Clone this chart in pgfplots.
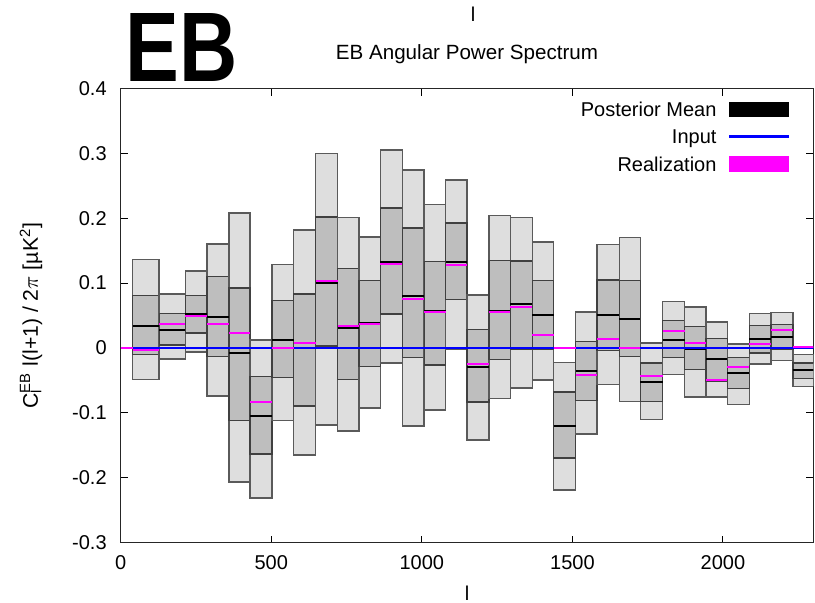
\documentclass[border=0pt]{standalone}
\usepackage{fontspec}
\setmainfont{Liberation Sans}
\usepackage{graphicx}
\usepackage{pgfplots}
\usepackage{pgfplotstable}
\pgfplotsset{compat=1.18}
\definecolor{lightfill}{HTML}{DEDEDE}
\definecolor{darkfill}{HTML}{BEBEBE}
\definecolor{boxedge}{HTML}{5A5A5A}
\definecolor{realmag}{HTML}{FF00FF}
\definecolor{inblue}{HTML}{0000FF}

% x0 x1 : bin edges; l2 h2 : outer band; l1 h1 : inner band; m : posterior mean; r : realization
\pgfplotstableread{
x0   x1   l2      l1      m       r       h1      h2
40   128  -0.0490 -0.0105 0.0342  -0.0028 0.0805  0.1366
128  215  -0.0172 0.0044  0.0280  0.0368  0.0527  0.0830
215  286  -0.0064 0.0229  0.0522  0.0486  0.0805  0.1186
286  359  -0.0743 -0.0136 0.0470  0.0373  0.1100  0.1602
359  430  -0.2065 -0.1119 -0.0075 0.0229  0.0923  0.2080
430  503  -0.2317 -0.1633 -0.1057 -0.0830 -0.0440 0.0121
503  574  -0.1116 -0.0460 0.0130  -0.0008 0.0733  0.1283
574  647  -0.1649 -0.0893 0.0000  0.0069  0.0830  0.1818
647  720  -0.1186 0.0030  0.1006  0.1026  0.2019  0.2996
720  791  -0.1280 -0.0491 0.0311  0.0332  0.1222  0.2009
791  862  -0.0924 -0.0290 0.0380  0.0368  0.1037  0.1710
862  935  -0.0234 0.0522  0.1325  0.1289  0.2158  0.3053
935  1008 -0.1206 -0.0152 0.0805  0.0749  0.1850  0.2744
1008 1079 -0.0960 -0.0260 0.0563  0.0548  0.1335  0.2209
1079 1150 -0.0020 0.0744  0.1320  0.1284  0.1926  0.2590
1150 1223 -0.1417 -0.0836 -0.0296 -0.0255 0.0280  0.0820
1223 1294 -0.0779 -0.0177 0.0573  0.0548  0.1350  0.2045
1294 1367 -0.0615 -0.0018 0.0676  0.0630  0.1340  0.2009
1367 1438 -0.0491 -0.0028 0.0512  0.0198  0.1042  0.1633
1438 1511 -0.2189 -0.1695 -0.1196 0.0000  -0.0677 -0.0224
1511 1582 -0.1330 -0.0815 -0.0358 -0.0419 0.0100  0.0553
1582 1656 -0.0563 -0.0044 0.0512  0.0141  0.1047  0.1592
1656 1726 -0.0826 -0.0131 0.0445  -0.0008 0.1042  0.1700
1726 1800 -0.1104 -0.0826 -0.0532 -0.0435 -0.0234 0.0075
1800 1873 -0.0409 -0.0147 0.0130  0.0255  0.0419  0.0718
1873 1944 -0.0759 -0.0337 -0.0010 0.0080  0.0327  0.0635
1944 2015 -0.0759 -0.0507 -0.0172 -0.0496 0.0150  0.0398
2015 2088 -0.0872 -0.0630 -0.0388 -0.0296 -0.0152 0.0064
2088 2159 -0.0244 -0.0080 0.0141  0.0054  0.0342  0.0532
2159 2232 -0.0193 -0.0018 0.0162  0.0270  0.0363  0.0548
2232 2310 -0.0594 -0.0471 -0.0337 0.0013  -0.0234 -0.0100
}\bins

\begin{document}
\begin{tikzpicture}
\useasboundingbox (-60.35pt,-29.75pt) rectangle (347.15pt,271.25pt);
\begin{axis}[
  at={(0,0)}, anchor=south west,
  scale only axis, width=346.3pt, height=227pt,
  xmin=0, xmax=2300, ymin=-0.3, ymax=0.4,
  xtick={0,500,1000,1500,2000},
  xticklabels={0,500,1000,1500,2000},
  ytick={-0.3,-0.2,-0.1,0,0.1,0.2,0.3,0.4},
  yticklabels={-0.3,-0.2,-0.1,0,0.1,0.2,0.3,0.4},
  tick align=inside, major tick length=3.5pt,
  tick style={black, line width=0.5pt},
  axis line style={black!85, line width=0.75pt},
  xticklabel style={yshift=-2.9pt},
  yticklabel style={xshift=-3.5pt},
  xlabel={l},
  ylabel={C\rlap{\textsubscript{l}}\textsuperscript{EB} l(l+1) / 2$\pi$ [µK\textsuperscript{2}]},
  every axis x label/.style={at={(axis description cs:0.5,0)}, anchor=base, yshift=-28.75pt},
  every axis y label/.style={at={(axis description cs:-0.1194,0.5)}, anchor=base, rotate=90,
    font=\fontsize{10.6}{12}\selectfont},
  title={EB Angular Power Spectrum},
  every axis title/.style={at={(axis description cs:0.5,1)}, anchor=base, yshift=14.6pt,
    font=\fontsize{10.3}{12}\selectfont},
  legend plot pos=right,
  legend cell align=right,
  legend style={draw=none, fill=none, at={(axis description cs:0.9653,0.972)}, anchor=north east,
    row sep=6.3pt, column sep=6.5pt, inner sep=0pt,
    nodes={inner sep=0pt, text height=7.2pt, text depth=0pt}},
]
% bands
\pgfplotsforeachungrouped \i in {0,...,30}{%
  \pgfplotstablegetelem{\i}{x0}\of\bins \let\xa\pgfplotsretval
  \pgfplotstablegetelem{\i}{x1}\of\bins \let\xb\pgfplotsretval
  \pgfplotstablegetelem{\i}{l2}\of\bins \let\la\pgfplotsretval
  \pgfplotstablegetelem{\i}{h2}\of\bins \let\ha\pgfplotsretval
  \pgfplotstablegetelem{\i}{l1}\of\bins \let\lb\pgfplotsretval
  \pgfplotstablegetelem{\i}{h1}\of\bins \let\hb\pgfplotsretval
  \edef\tmp{%
    \noexpand\addplot[forget plot, fill=lightfill, draw=boxedge, line width=0.75pt]
      coordinates {(\xa,\la) (\xb,\la) (\xb,\ha) (\xa,\ha)} -- cycle;
    \noexpand\addplot[forget plot, fill=darkfill, draw=black!75, line width=0.7pt]
      coordinates {(\xa,\lb) (\xb,\lb) (\xb,\hb) (\xa,\hb)} -- cycle;
  }\tmp
}
% posterior means
\pgfplotsforeachungrouped \i in {0,...,30}{%
  \pgfplotstablegetelem{\i}{x0}\of\bins \let\xa\pgfplotsretval
  \pgfplotstablegetelem{\i}{x1}\of\bins \let\xb\pgfplotsretval
  \pgfplotstablegetelem{\i}{m}\of\bins \let\mm\pgfplotsretval
  \edef\tmp{%
    \noexpand\addplot[forget plot, black, line width=1pt]
      coordinates {(\xa,\mm) (\xb,\mm)};
  }\tmp
}
% input
\addplot[forget plot, inblue, line width=0.9pt] coordinates {(40,0) (2310,0)};
% realization
\addplot[forget plot, realmag, line width=1pt] coordinates {(0,0) (40,0)};
\pgfplotsforeachungrouped \i in {0,...,30}{%
  \pgfplotstablegetelem{\i}{x0}\of\bins \let\xa\pgfplotsretval
  \pgfplotstablegetelem{\i}{x1}\of\bins \let\xb\pgfplotsretval
  \pgfplotstablegetelem{\i}{r}\of\bins \let\rr\pgfplotsretval
  \edef\tmp{%
    \noexpand\addplot[forget plot, realmag, line width=1pt]
      coordinates {(\xa,\rr) (\xb,\rr)};
  }\tmp
}
\addlegendimage{legend image code/.code={\fill[black] (0pt,-3.6pt) rectangle (29.3pt,3.6pt);}}
\addlegendentry{Posterior Mean}
\addlegendimage{legend image code/.code={\fill[inblue] (0pt,-0.45pt) rectangle (29.3pt,0.45pt);}}
\addlegendentry{Input}
\addlegendimage{legend image code/.code={\fill[realmag] (0pt,-3.6pt) rectangle (29.3pt,3.6pt);}}
\addlegendentry{Realization}
\end{axis}
\node[anchor=base, inner sep=0pt] at (176.15pt,260.4pt) {l};
\node[anchor=south west, inner sep=0pt] at (2.15pt,230.25pt) {\resizebox{56pt}{34pt}{\bfseries EB}};
\end{tikzpicture}
\end{document}
